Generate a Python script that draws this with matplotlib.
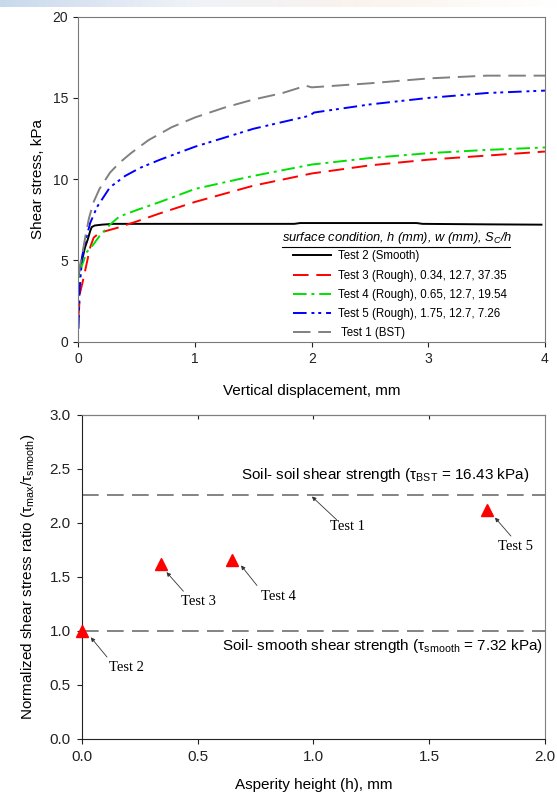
import matplotlib
matplotlib.use('Agg')
import matplotlib.pyplot as plt
import numpy as np
from matplotlib.lines import Line2D
from matplotlib.colors import LinearSegmentedColormap

plt.rcParams['font.family'] = ['Liberation Sans', 'DejaVu Sans']
plt.rcParams['mathtext.fontset'] = 'custom'
plt.rcParams['mathtext.rm'] = 'Liberation Sans'
plt.rcParams['mathtext.it'] = 'Liberation Sans:italic'

# ---- top panel: shear stress vs vertical displacement ----
t2_x = [0, 0.01, 0.027, 0.056, 0.08, 0.10, 0.113, 0.14, 0.2, 0.3, 0.5, 1.0, 1.85, 1.9, 2.9, 2.95, 3.5, 3.97]
t2_y = [4.0, 4.5, 4.9, 5.8, 6.3, 6.8, 7.05, 7.15, 7.2, 7.25, 7.25, 7.25, 7.25, 7.3, 7.3, 7.25, 7.22, 7.2]

t3_x = [0, 0.013, 0.04, 0.07, 0.10, 0.13, 0.18, 0.33, 0.5, 0.7, 1.0, 1.5, 2.0, 2.5, 3.0, 3.5, 4.0]
t3_y = [1.5, 3.0, 3.8, 4.8, 5.8, 6.4, 6.7, 7.0, 7.4, 7.9, 8.6, 9.6, 10.35, 10.85, 11.2, 11.45, 11.7]

t4_x = [0, 0.013, 0.03, 0.07, 0.13, 0.18, 0.27, 0.35, 0.5, 0.7, 1.0, 1.5, 2.0, 2.5, 3.0, 3.5, 4.0]
t4_y = [2.8, 4.2, 4.7, 5.5, 6.0, 6.5, 7.2, 7.7, 8.1, 8.6, 9.4, 10.2, 10.9, 11.3, 11.6, 11.8, 11.95]

t5_x = [0, 0.01, 0.03, 0.06, 0.10, 0.16, 0.27, 0.4, 0.53, 0.7, 1.0, 1.5, 1.98, 2.02, 2.5, 3.0, 3.5, 4.0]
t5_y = [0.8, 3.2, 5.2, 6.2, 7.3, 8.3, 9.5, 10.2, 10.7, 11.2, 12.0, 13.1, 13.9, 14.1, 14.6, 15.0, 15.3, 15.45]

t1_x = [0, 0.01, 0.03, 0.06, 0.09, 0.13, 0.18, 0.27, 0.35, 0.45, 0.6, 0.8, 1.0, 1.25, 1.5, 1.75, 1.95, 2.0, 2.5, 3.0, 3.5, 4.0]
t1_y = [4.0, 4.6, 5.3, 6.5, 7.6, 8.6, 9.4, 10.4, 11.0, 11.6, 12.4, 13.2, 13.8, 14.4, 14.9, 15.3, 15.75, 15.65, 15.9, 16.2, 16.37, 16.37]

# ---- bottom panel: normalized ratio vs asperity height ----
h_vals = [0.0, 0.34, 0.65, 1.75]
ratio_vals = [1.0, 1.62, 1.66, 2.12]
bst_ratio = 2.26
smooth_ratio = 1.0

fig = plt.figure(figsize=(5.57, 7.97), dpi=100)

# faint header band at the very top
band = fig.add_axes([0, 1 - 7 / 797, 1, 7 / 797])
grad = np.linspace(0, 1, 256).reshape(1, -1)
cm = LinearSegmentedColormap.from_list('band', ['#c9d9ec', '#eef2f8', '#fbf3ec', '#ffffff'])
band.imshow(grad, aspect='auto', cmap=cm)
band.axis('off')

ax1 = fig.add_axes([0.1409, 0.5713, 0.8375, 0.4078])
ax1.plot(t2_x, t2_y, color='black', lw=1.4, label='Test 2 (Smooth)')
ax1.plot(t3_x, t3_y, color='#ff0000', lw=1.4, dashes=(8, 4), label='Test 3 (Rough), 0.34, 12.7, 37.35')
ax1.plot(t4_x, t4_y, color='#00e000', lw=1.4, dashes=(7, 2.5, 1.5, 2.5), label='Test 4 (Rough), 0.65, 12.7, 19.54')
ax1.plot(t5_x, t5_y, color='#0000ff', lw=1.4, dashes=(7, 2.5, 1.5, 2, 1.5, 2.5), label='Test 5 (Rough), 1.75, 12.7, 7.26')
ax1.plot(t1_x, t1_y, color='#808080', lw=1.4, dashes=(9, 4), label=' Test 1 (BST)')

ax1.set_xlim(0, 4)
ax1.set_ylim(0, 20)
ax1.set_xticks([0, 1, 2, 3, 4])
ax1.set_yticks([0, 5, 10, 15, 20])
ax1.tick_params(direction='out', length=3.6, pad=4, labelsize=10, colors='#222222')
for s in ax1.spines:
    ax1.spines[s].set_color('#7a7a7a')
ax1.set_xlabel('Vertical displacement, mm', fontsize=11, labelpad=13)
ax1.set_ylabel('Shear stress, kPa', fontsize=11, labelpad=5)

ax1.text(0.4356, 0.318, 'surface condition, h (mm), w (mm), S$_\\mathit{C}$/h',
         transform=ax1.transAxes, fontsize=9.3, style='italic', ha='left', va='center')
ax1.add_line(Line2D([0.4356, 0.925], [0.292, 0.292], transform=ax1.transAxes,
                    color='black', lw=0.8))
ax1.legend(loc='lower left', bbox_to_anchor=(0.4605, 0.008), frameon=False,
           fontsize=8.3, handlelength=3.3, handletextpad=0.6, labelspacing=0.62,
           borderpad=0, borderaxespad=0)

# bottom panel
ax2 = fig.add_axes([0.1472, 0.0728, 0.8312, 0.4065])
ax2.axhline(bst_ratio, color='#6e6e6e', lw=1.2, dashes=(10, 5))
ax2.axhline(smooth_ratio, color='#6e6e6e', lw=1.2, dashes=(10, 5))
ax2.plot(h_vals, ratio_vals, linestyle='none', marker='^', color='#ff0000',
         markersize=8, clip_on=False, zorder=5)

ax2.set_xlim(0, 2)
ax2.set_ylim(0, 3)
ax2.set_xticks([0, 0.5, 1.0, 1.5, 2.0])
ax2.set_xticklabels(['0.0', '0.5', '1.0', '1.5', '2.0'])
ax2.set_yticks([0, 0.5, 1.0, 1.5, 2.0, 2.5, 3.0])
ax2.set_yticklabels(['0.0', '0.5', '1.0', '1.5', '2.0', '2.5', '3.0'])
ax2.tick_params(direction='out', length=3.6, pad=4.5, labelsize=11, colors='#222222')
top_ax = ax2.secondary_xaxis('top')
top_ax.set_xticks([0.5, 1.0, 1.5])
top_ax.tick_params(direction='in', length=3, labeltop=False, colors='#222222')
top_ax.spines['top'].set_color('#7f7f7f')
for s in ['top', 'right']:
    ax2.spines[s].set_color('#7f7f7f')
for s in ['left', 'bottom']:
    ax2.spines[s].set_color('#222222')
ax2.set_xlabel('Asperity height (h), mm', fontsize=11, labelpad=10)
ax2.set_ylabel('Normalized shear stress ratio (\u03c4$_{\\mathrm{max}}$/\u03c4$_{\\mathrm{smooth}}$)',
               fontsize=11, labelpad=9)

ax2.text(1.932, 2.44, 'Soil- soil shear strength (\u03c4$_{\\mathrm{BST}}$ = 16.43 kPa)',
         fontsize=11, ha='right', va='center')
ax2.text(1.99, 0.857, 'Soil- smooth shear strength (\u03c4$_{\\mathrm{smooth}}$ = 7.32 kPa)',
         fontsize=11, ha='right', va='center')

labels = ['Test 1', 'Test 5', 'Test 3', 'Test 4', 'Test 2']
label_xy = [(1.148, 1.97), (1.871, 1.78), (0.505, 1.272), (0.848, 1.322), (0.191, 0.666)]
tail_xy = [(1.10, 2.03), (1.853, 1.879), (0.438, 1.368), (0.756, 1.421), (0.108, 0.759)]
head_xy = [(0.993, 2.245), (1.784, 2.05), (0.365, 1.545), (0.687, 1.607), (0.038, 0.941)]
for lab, (tx, ty), (sx, sy), (hx, hy) in zip(labels, label_xy, tail_xy, head_xy):
    ax2.text(tx, ty, lab, fontsize=10.5, family='Liberation Serif', ha='center', va='center')
    ax2.annotate('', xy=(hx, hy), xytext=(sx, sy),
                 arrowprops=dict(arrowstyle='-|>', lw=0.6, color='#333333',
                                 mutation_scale=6, shrinkA=0, shrinkB=0))

fig.savefig('out.png', dpi=100)
